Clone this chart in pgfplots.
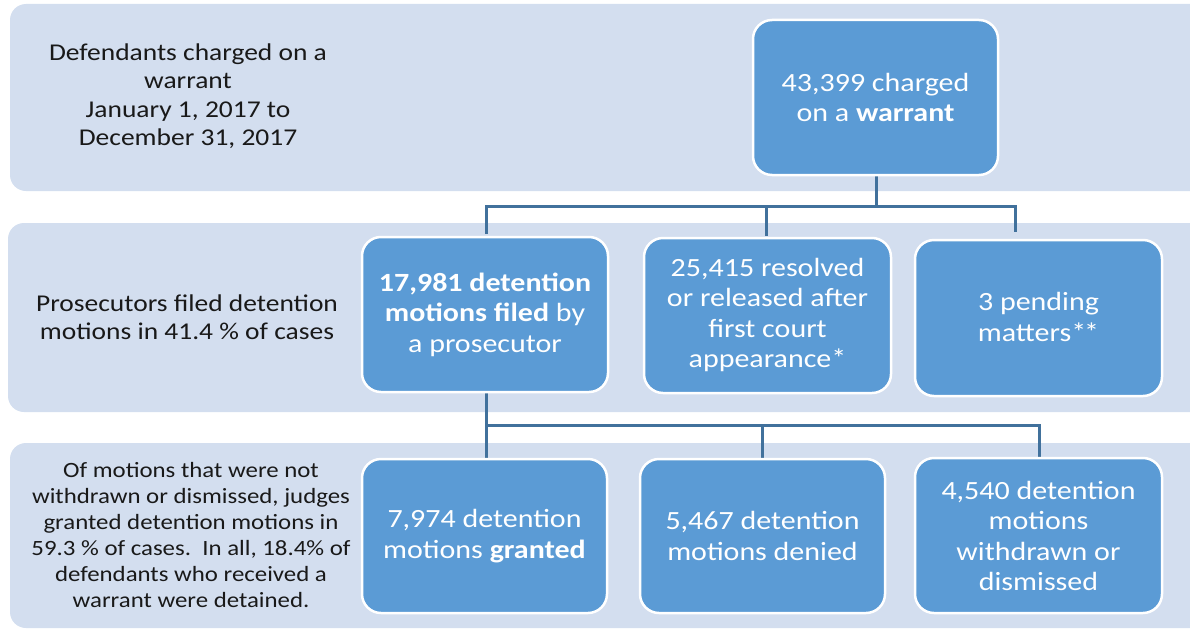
\documentclass[border=0pt]{standalone}
\usepackage{fontspec}
\setmainfont{Carlito}[FakeStretch=1.14]
\usepackage{pgfplots}
\pgfplotsset{compat=1.18}
\definecolor{band}{RGB}{211,222,239}
\definecolor{boxc}{RGB}{91,155,213}
\definecolor{conn}{RGB}{65,113,156}
\definecolor{txt}{RGB}{25,25,25}
\newcommand\boxfont{\fontsize{26.3bp}{30.5bp}\selectfont}
\newcommand\leftfont{\fontsize{24.1bp}{28.5bp}\selectfont}
\newcommand\smallfont{\fontsize{21.8bp}{26bp}\selectfont}
\begin{document}
\begin{tikzpicture}
\begin{axis}[scale only axis, width=1190bp, height=629bp,
  xmin=0, xmax=1190, ymin=0, ymax=629, y dir=reverse,
  hide axis, clip=true]
% bands
\addplot[fill=band, draw=none, rounded corners=16bp] coordinates {(10,4) (1210,4) (1210,191) (10,191)} -- cycle;
\addplot[fill=band, draw=none, rounded corners=16bp] coordinates {(8,223) (1210,223) (1210,412) (8,412)} -- cycle;
\addplot[fill=band, draw=none, rounded corners=16bp] coordinates {(10,443) (1210,443) (1210,628) (10,628)} -- cycle;
% connectors
\addplot[conn, line width=3bp] coordinates {(876,172) (876,206)};
\addplot[conn, line width=3bp] coordinates {(486,234) (486,206) (1015,206) (1015,232)};
\addplot[conn, line width=3bp] coordinates {(766,206) (766,236)};
\addplot[conn, line width=3bp] coordinates {(486,390) (486,458)};
\addplot[conn, line width=3bp] coordinates {(486,425) (1039,425) (1039,457)};
\addplot[conn, line width=3bp] coordinates {(762,425) (762,458)};
% boxes
\addplot[fill=boxc, draw=white, line width=2.5bp, rounded corners=19bp] coordinates {(753,20) (998,20) (998,175) (753,175)} -- cycle;
\addplot[fill=boxc, draw=white, line width=2.5bp, rounded corners=19bp] coordinates {(362,237) (608,237) (608,392) (362,392)} -- cycle;
\addplot[fill=boxc, draw=white, line width=2.5bp, rounded corners=19bp] coordinates {(644,238) (891,238) (891,393) (644,393)} -- cycle;
\addplot[fill=boxc, draw=white, line width=2.5bp, rounded corners=19bp] coordinates {(915,240) (1162,240) (1162,396) (915,396)} -- cycle;
\addplot[fill=boxc, draw=white, line width=2.5bp, rounded corners=19bp] coordinates {(362,459) (607,459) (607,613) (362,613)} -- cycle;
\addplot[fill=boxc, draw=white, line width=2.5bp, rounded corners=19bp] coordinates {(640,459) (885,459) (885,613) (640,613)} -- cycle;
\addplot[fill=boxc, draw=white, line width=2.5bp, rounded corners=19bp] coordinates {(915,458) (1162,458) (1162,613) (915,613)} -- cycle;
% box texts
\begin{scope}[every node/.style={align=center, text=white, inner sep=0pt, font=\boxfont}]
\node at (axis cs:875.5,97.5) {43,399 charged\\on a \textbf{warrant}};
\node at (axis cs:485,314.5) {\textbf{17,981 detention}\\\textbf{motions filed} by\\a prosecutor};
\node at (axis cs:767.5,315) {25,415 resolved\\or released after\\first court\\appearance*};
\node at (axis cs:1038.5,317) {3 pending\\matters*\kern-2bp*};
\node at (axis cs:484.5,536) {7,974 detention\\motions \textbf{granted}};
\node at (axis cs:762.5,536) {5,467 detention\\motions denied};
\node at (axis cs:1038.5,536) {4,540 detention\\motions\\withdrawn or\\dismissed};
\end{scope}
% left texts
\begin{scope}[every node/.style={align=center, text=txt, inner sep=0pt}]
\node[font=\leftfont] at (axis cs:188,96) {Defendants charged on a\\warrant\\January 1, 2017 to\\December 31, 2017};
\node[font=\leftfont] at (axis cs:187,317) {Prosecutors filed detention\\motions in 41.4 \% of cases};
\node[font=\smallfont] at (axis cs:191,535) {Of motions that were not\\withdrawn or dismissed, judges\\granted detention motions in\\59.3 \% of cases.\ \ In all, 18.4\% of\\defendants who received a\\warrant were detained.};
\end{scope}
\end{axis}
\pgfresetboundingbox
\path[use as bounding box] (current axis.south west) rectangle (current axis.north east);
\end{tikzpicture}
\end{document}
